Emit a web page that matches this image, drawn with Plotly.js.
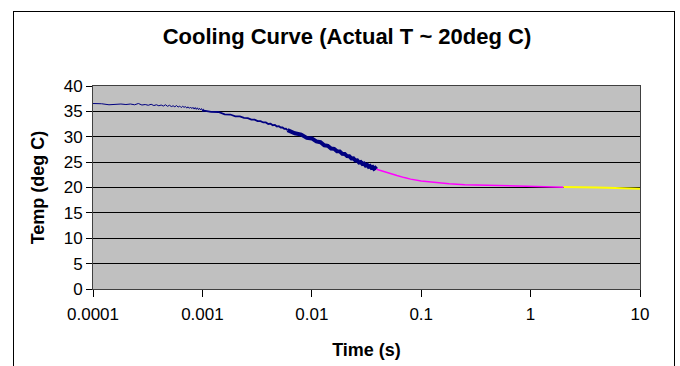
<!DOCTYPE html>
<html>
<head>
<meta charset="utf-8">
<script src="https://cdn.plot.ly/plotly-3.0.1.min.js"></script>
<style>
  html, body { margin: 0; padding: 0; background: #ffffff; }
  #wrap { position: relative; width: 680px; height: 366px; overflow: hidden; }
  #chart { width: 680px; height: 366px; }
  #frame { position: absolute; left: 13px; top: 11px; width: 662px; height: 400px;
           border: 1px solid #000; box-sizing: border-box; pointer-events: none; }
</style>
</head>
<body>
<div id="wrap">
  <div id="chart"></div>
  <div id="frame"></div>
</div>
<script>
// ---- data ----
const timeEarly = [0.00010,0.00012,0.00014,0.00016,0.00018,0.00020,0.00022,0.00024,0.00026,0.00028,
  0.00030,0.00032,0.00034,0.00036,0.00038,0.00040,0.00042,0.00044,0.00046,0.00048,
  0.00050,0.00052,0.00054,0.00056,0.00058,0.00060,0.00062,0.00064,0.00066,0.00068,
  0.00070,0.00072,0.00074,0.00076,0.00078,0.00080,0.00082,0.00084,0.00086,0.00088,
  0.00090,0.00092,0.00094,0.00096,0.00098,0.00100,0.00101,0.00102];
const tempEarly = [36.55,36.5,36.3,36.4,36.45,36.35,36.45,36.3,36.55,36.25,
  36.35,36.2,36.4,36.15,36.3,36.1,36.25,36.05,36.3,36.0,
  36.2,35.95,36.1,35.9,36.15,35.85,36.05,35.75,36.0,35.8,
  35.95,35.65,35.9,35.6,35.85,35.55,35.8,35.45,35.75,35.4,
  35.7,35.35,35.6,35.3,35.55,35.2,34.9,35.5];

const timeMid = [0.0010,0.0012,0.0014,0.0016,0.0018,0.0020,0.0022,0.0024,0.0026,0.0028,
  0.0030,0.0032,0.0034,0.0036,0.0038,0.0040,0.0042,0.0044,0.0046,0.0048,
  0.0050,0.0052,0.0054,0.0056,0.0058,0.0060];
const tempMid = [35.2,34.92,34.88,34.42,34.38,34.02,34.03,33.72,33.68,33.37,
  33.38,33.07,33.08,32.82,32.83,32.52,32.58,32.27,32.33,32.02,
  32.08,31.82,31.83,31.57,31.58,31.3];

const timeLate = [0.006,0.007,0.008,0.009,0.010,0.011,0.012,0.013,0.014,0.015,
  0.016,0.017,0.018,0.019,0.020,0.021,0.022,0.023,0.024,0.025,
  0.026,0.027,0.028,0.029,0.030,0.031,0.032,0.033,0.034,0.035,
  0.036,0.037,0.038,0.039];
const tempLate = [31.3,30.68,30.42,29.78,29.67,29.08,28.92,28.33,28.22,27.68,
  27.62,27.13,27.12,26.63,26.62,26.18,26.17,25.73,25.77,25.33,
  25.37,24.93,25.02,24.63,24.72,24.33,24.47,24.08,24.22,23.88,
  24.02,23.68,23.87,23.6];

const timeMagenta = [0.039,0.045,0.05,0.06,0.07,0.08,0.1,0.13,0.18,0.25,0.35,0.5,0.7,1.0,1.4,2.0];
const tempMagenta = [23.6,23.15,22.85,22.35,21.95,21.65,21.3,21.0,20.75,20.55,20.45,20.35,20.25,20.2,20.15,20.05];

const timeYellow = [2.0,2.5,3,4,5,6,7,8,10];
const tempYellow = [20.1,20.1,20.05,20.0,19.95,19.9,19.85,19.8,19.75];

const xTickVals = [0.0001,0.001,0.01,0.1,1,10];
const xTickText = ['0.0001','0.001','0.01','0.1','1','10'];
const yTickVals = [0,5,10,15,20,25,30,35,40];

const navy = '#000080';
const traces = [
  {x: timeEarly, y: tempEarly, mode: 'lines', line: {color: navy, width: 1}},
  {x: timeMid, y: tempMid, mode: 'lines', line: {color: navy, width: 1.8}},
  {x: timeLate, y: tempLate, mode: 'lines', line: {color: navy, width: 4}},
  {x: timeMagenta, y: tempMagenta, mode: 'lines', line: {color: '#FF00FF', width: 1.5}},
  {x: timeYellow, y: tempYellow, mode: 'lines', line: {color: '#FFFF00', width: 1.8}}
];

const font = 'Liberation Sans, Arial, sans-serif';
const layout = {
  width: 680, height: 366,
  margin: {l: 93, r: 40, t: 86, b: 77, pad: 0},
  paper_bgcolor: '#ffffff',
  plot_bgcolor: '#C0C0C0',
  showlegend: false,
  font: {family: font, color: '#000'},
  title: {
    text: '<b>Cooling Curve (Actual T ~ 20deg C)</b>',
    font: {family: font, size: 22, color: '#000'},
    xref: 'container', x: 347/680, xanchor: 'center',
    yref: 'container', y: 1 - 36/366, yanchor: 'middle'
  },
  xaxis: {
    type: 'log', range: [-4, 1],
    tickvals: xTickVals, ticktext: xTickText,
    ticks: 'outside', ticklen: 7, tickcolor: '#000', tickwidth: 1,
    ticklabelstandoff: 3,
    showline: true, linecolor: '#404040', linewidth: 1, mirror: true,
    showgrid: false, zeroline: false,
    tickfont: {family: font, size: 17, color: '#000'},
    title: {text: '<b>Time (s)</b>', font: {family: font, size: 18, color: '#000'}, standoff: 19}
  },
  yaxis: {
    range: [0, 40], tickvals: yTickVals,
    ticks: 'outside', ticklen: 6, tickcolor: '#000', tickwidth: 1,
    showline: true, linecolor: '#404040', linewidth: 1, mirror: true,
    showgrid: true, gridcolor: '#000', gridwidth: 1, zeroline: false,
    tickfont: {family: font, size: 17, color: '#000'},
    title: {text: '<b>Temp (deg C)</b>', font: {family: font, size: 18, color: '#000'}, standoff: 14}
  }
};

Plotly.newPlot('chart', traces, layout, {staticPlot: true, displayModeBar: false});
</script>
</body>
</html>
